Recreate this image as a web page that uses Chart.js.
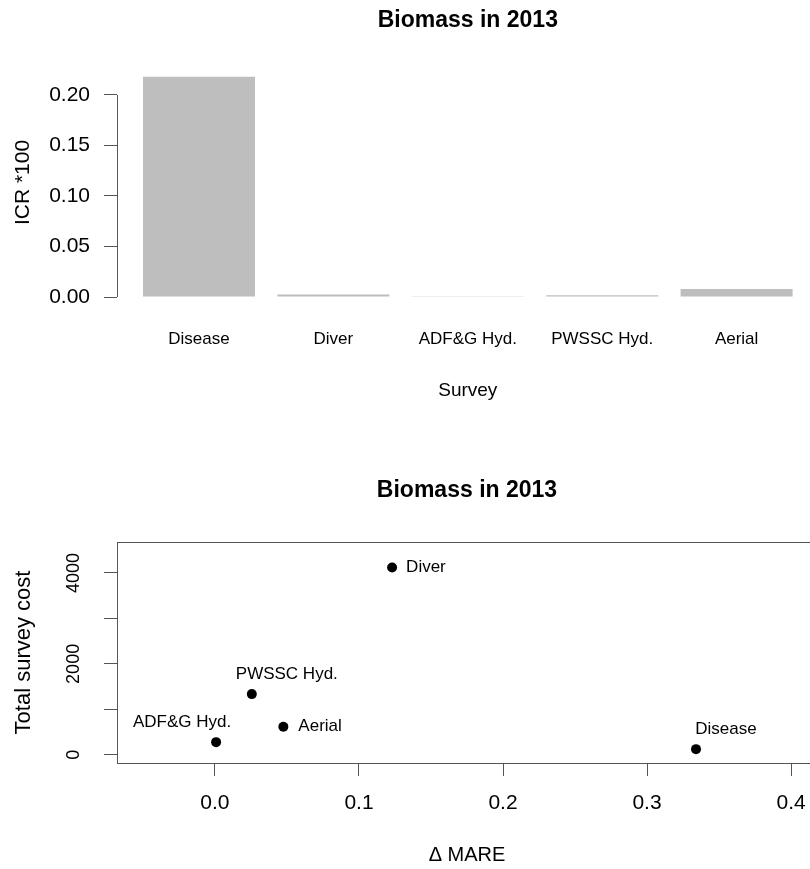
<!DOCTYPE html>
<html>
<head>
<meta charset="utf-8">
<script src="https://cdn.jsdelivr.net/npm/chart.js@4.4.1/dist/chart.umd.min.js"></script>
<style>
html, body { margin: 0; padding: 0; overflow: hidden; background: #fff; }
#wrap { position: relative; width: 810px; height: 869px; overflow: hidden; }
canvas { position: absolute; left: 0; }
</style>
</head>
<body>
<div id="wrap">
	<canvas id="icr_chart" width="830" height="440" style="top:0px"></canvas>
	<canvas id="cost_chart" width="830" height="429" style="top:440px"></canvas>
</div>
<script>
var surveys = ['Disease', 'Diver', 'ADF&G Hyd.', 'PWSSC Hyd.', 'Aerial'];
var icr = [0.218, 0.0025, 0.0007, 0.0018, 0.0078];
var delta_mare = [0.334, 0.123, 0.0008, 0.0256, 0.0475];
var survey_cost = [125, 4120, 279, 1335, 616];

var icr_ticks = [0, 0.05, 0.10, 0.15, 0.20];
var mare_ticks = [0, 0.1, 0.2, 0.3, 0.4];
var cost_ticks = [0, 1000, 2000, 3000, 4000];
var cost_labelled = [0, 2000, 4000];

var chart_title = 'Biomass in 2013';

// where each point's name goes, relative to its dot (px)
var label_place = {
	'Disease':     {dx: 30,  dy: -20, align: 'center'},
	'Diver':       {dx: 14,  dy: 0,   align: 'left'},
	'ADF&G Hyd.':  {dx: -34, dy: -20, align: 'center'},
	'PWSSC Hyd.':  {dx: 35,  dy: -20, align: 'center'},
	'Aerial':      {dx: 15,  dy: 0,   align: 'left'}
};

var font_family = '"Liberation Sans", Arial, sans-serif';
var axis_colour = '#555';
var bar_colour = '#bebebe';

Chart.defaults.font.family = font_family;
Chart.defaults.color = '#000';

// R barplot puts bars at 0.7, 1.9, 3.1 ... (width 1, space 0.2)
function barMid(i)
{
	return 0.7 + i * 1.2;
}

function toTicks(list)
{
	return list.map(function (v) { return {value: v}; });
}

var icrAxisLine = {
	id: 'icrAxisLine',
	afterDraw: function (chart)
	{
		var y = chart.scales.y;
		var ctx = chart.ctx;
		var x = Math.round(chart.chartArea.left) + 0.5;
		ctx.save();
		ctx.strokeStyle = axis_colour;
		ctx.lineWidth = 1;
		ctx.beginPath();
		ctx.moveTo(x, y.getPixelForValue(icr_ticks[0]));
		ctx.lineTo(x, y.getPixelForValue(icr_ticks[icr_ticks.length - 1]));
		ctx.stroke();
		ctx.restore();
	}
};

var plotBox = {
	id: 'plotBox',
	afterDraw: function (chart)
	{
		var a = chart.chartArea;
		var ctx = chart.ctx;
		ctx.save();
		ctx.strokeStyle = axis_colour;
		ctx.lineWidth = 1;
		ctx.strokeRect(Math.round(a.left) + 0.5, Math.round(a.top) + 0.5, Math.round(a.right - a.left), Math.round(a.bottom - a.top));
		ctx.restore();
	}
};

var pointNames = {
	id: 'pointNames',
	afterDatasetsDraw: function (chart)
	{
		var ctx = chart.ctx;
		var meta = chart.getDatasetMeta(0);
		ctx.save();
		ctx.font = '17px ' + font_family;
		ctx.fillStyle = '#000';
		ctx.textBaseline = 'middle';
		meta.data.forEach(function (pt, index)
		{
			var p = label_place[surveys[index]];
			ctx.textAlign = p.align;
			ctx.fillText(surveys[index], pt.x + p.dx, pt.y + p.dy);
		});
		ctx.restore();
	}
};

//Bar chart
var icrChart = new Chart(document.getElementById('icr_chart').getContext('2d'), {
	type: 'bar',
	data: {
		datasets: [{
			data: surveys.map(function (s, i) { return {x: barMid(i), y: icr[i]}; }),
			backgroundColor: bar_colour,
			borderWidth: 0,
			barPercentage: 1 / 1.2,
			categoryPercentage: 1
		}]
	},
	options: {
		responsive: false,
		animation: false,
		devicePixelRatio: 1,
		layout: {padding: {left: 0, right: 11.4, top: 0, bottom: 0}},
		plugins: {
			legend: {display: false},
			tooltip: {enabled: false},
			title: {
				display: true,
				text: chart_title,
				fullSize: false,
				font: {size: 23, weight: 'bold'},
				color: '#000',
				padding: {top: 6.9, bottom: 33.5}
			}
		},
		scales: {
			x: {
				type: 'linear',
				offset: false,
				min: -0.032,
				max: 6.232,
				afterBuildTicks: function (scale) { scale.ticks = surveys.map(function (s, i) { return {value: barMid(i)}; }); },
				afterFit: function (scale) { scale.height = 143; },
				grid: {display: false, drawTicks: false},
				border: {display: false},
				ticks: {
					autoSkip: false,
					maxRotation: 0,
					padding: 32.4,
					font: {size: 17},
					color: '#000',
					callback: function (value, index) { return surveys[index]; }
				},
				title: {display: true, text: 'Survey', font: {size: 19}, color: '#000', padding: {top: 0, bottom: 37.6}}
			},
			y: {
				min: 0,
				max: 0.2267,
				afterBuildTicks: function (scale) { scale.ticks = toTicks(icr_ticks); },
				afterFit: function (scale) { scale.width = 117; },
				grid: {drawOnChartArea: false, drawTicks: true, tickLength: 13, color: axis_colour},
				border: {display: false},
				ticks: {
					padding: 14,
					font: {size: 21},
					color: '#000',
					callback: function (value) { return value.toFixed(2); }
				},
				title: {display: true, text: 'ICR *100', font: {size: 21}, color: '#000', padding: {top: 11, bottom: 0}}
			}
		}
	},
	plugins: [icrAxisLine]
});

//Scatter chart
var costChart = new Chart(document.getElementById('cost_chart').getContext('2d'), {
	type: 'scatter',
	data: {
		datasets: [{
			data: surveys.map(function (s, i) { return {x: delta_mare[i], y: survey_cost[i]}; }),
			backgroundColor: '#000',
			borderColor: '#000',
			pointRadius: 5,
			borderWidth: 0
		}]
	},
	options: {
		responsive: false,
		animation: false,
		devicePixelRatio: 1,
		layout: {padding: {left: 0, right: 13, top: 0, bottom: 0}},
		plugins: {
			legend: {display: false},
			tooltip: {enabled: false},
			title: {
				display: true,
				text: chart_title,
				fullSize: false,
				font: {size: 23, weight: 'bold'},
				color: '#000',
				padding: {top: 36.7, bottom: 37.7}
			}
		},
		scales: {
			x: {
				type: 'linear',
				min: -0.068,
				max: 0.418,
				afterBuildTicks: function (scale) { scale.ticks = toTicks(mare_ticks); },
				afterFit: function (scale) { scale.height = 106; },
				grid: {drawOnChartArea: false, drawTicks: true, tickLength: 13, color: axis_colour},
				border: {display: false},
				ticks: {
					maxRotation: 0,
					padding: 14.9,
					font: {size: 21},
					color: '#000',
					callback: function (value) { return value.toFixed(1); }
				},
				title: {display: true, text: '\u0394 MARE', font: {size: 20}, color: '#000', padding: {top: 0, bottom: 2}}
			},
			y: {
				type: 'linear',
				min: -180,
				max: 4680,
				afterBuildTicks: function (scale) { scale.ticks = toTicks(cost_ticks); },
				afterFit: function (scale) { scale.width = 117; },
				grid: {drawOnChartArea: false, drawTicks: true, tickLength: 13, color: axis_colour},
				border: {display: false},
				ticks: {
					minRotation: 90,
					maxRotation: 90,
					crossAlign: 'center',
					padding: 9.5,
					font: {size: 18},
					color: '#000',
					callback: function (value) { return cost_labelled.indexOf(value) >= 0 ? String(value) : ''; }
				},
				title: {display: true, text: 'Total survey cost', font: {size: 22}, color: '#000', padding: {top: 10.8, bottom: 0}}
			}
		}
	},
	plugins: [plotBox, pointNames]
});
</script>
</body>
</html>
